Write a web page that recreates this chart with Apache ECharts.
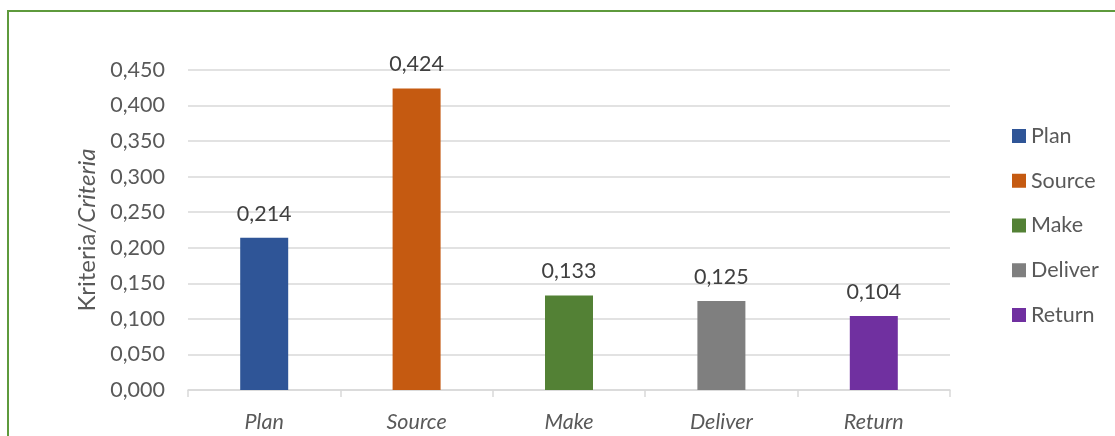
<!DOCTYPE html>
<html>
<head>
<meta charset="utf-8">
<script src="https://cdn.jsdelivr.net/npm/echarts@6/dist/echarts.min.js"></script>
<style>
html,body{margin:0;padding:0;background:#fff;}
#c{width:1115px;height:436px;}
</style>
</head>
<body>
<div id="c"></div>
<script>
const categories = ['Plan', 'Source', 'Make', 'Deliver', 'Return'];
const values = [0.214, 0.424, 0.133, 0.125, 0.104];
const colors = ['#2F5597', '#C55A11', '#538135', '#7F7F7F', '#7030A0'];
const yTicks = { min: 0, max: 0.45, interval: 0.05 };

const FONT = 'Lato';
const FS = 21.5;
const fmt = v => Number(v).toFixed(3).replace('.', ',');

const chart = echarts.init(document.getElementById('c'), null, { renderer: 'canvas' });

const series = categories.map((name, i) => ({
  name: name,
  type: 'bar',
  stack: 'all',
  barWidth: 48,
  itemStyle: { color: colors[i] },
  label: {
    show: true,
    position: 'top',
    distance: 13,
    color: '#404040',
    fontFamily: FONT,
    fontSize: FS,
    formatter: p => fmt(p.value)
  },
  data: categories.map((c, j) => (j === i ? values[i] : '-'))
}));

chart.setOption({
  animation: false,
  textStyle: { fontFamily: FONT },
  graphic: [{
    type: 'rect',
    shape: { x: 8, y: 11, width: 1200, height: 500 },
    style: { fill: 'none', stroke: '#5E9A3C', lineWidth: 2 },
    silent: true
  }],
  grid: { left: 188, right: 165, top: 70, bottom: 46, containLabel: false },
  legend: {
    orient: 'vertical',
    left: 1012,
    top: 125,
    padding: 0,
    itemWidth: 14,
    itemHeight: 14,
    itemGap: 22.75,
    icon: 'rect',
    textStyle: { color: '#595959', fontFamily: FONT, fontSize: FS, lineHeight: 22 },
    data: categories
  },
  xAxis: {
    type: 'category',
    data: categories,
    axisLine: { lineStyle: { color: '#D9D9D9', width: 1.5 } },
    axisTick: { show: true, length: 7, alignWithLabel: false, lineStyle: { color: '#D9D9D9', width: 1.5 } },
    axisLabel: { color: '#595959', fontFamily: FONT, fontSize: FS, fontStyle: 'italic', margin: 21 }
  },
  yAxis: {
    type: 'value',
    min: yTicks.min,
    max: yTicks.max,
    interval: yTicks.interval,
    name: '{a|Kriteria/}{b|Criteria}',
    nameLocation: 'middle',
    nameRotate: 90,
    nameGap: 88,
    nameTextStyle: {
      rich: {
        a: { color: '#595959', fontFamily: FONT, fontSize: 24 },
        b: { color: '#595959', fontFamily: FONT, fontSize: 24, fontStyle: 'italic' }
      }
    },
    axisLine: { show: false },
    axisTick: { show: false },
    splitLine: { lineStyle: { color: '#D9D9D9', width: 1.5 } },
    axisLabel: { color: '#595959', fontFamily: FONT, fontSize: FS, margin: 23, formatter: v => fmt(v) }
  },
  series: series
});
</script>
</body>
</html>
